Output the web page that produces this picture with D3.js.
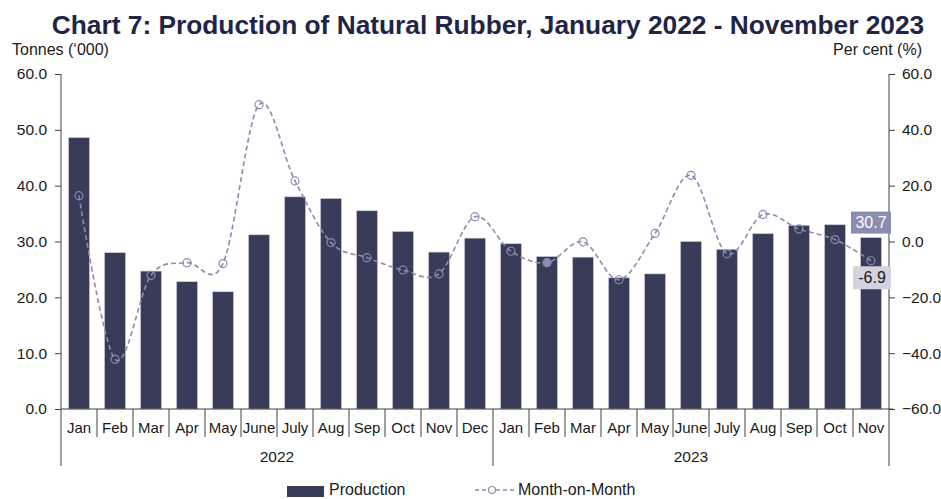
<!DOCTYPE html>
<html>
<head>
<meta charset="utf-8">
<script src="https://cdn.jsdelivr.net/npm/d3@7"></script>
<style>
  body { margin: 0; background: #fff; }
  svg { display: block; font-family: "Liberation Sans", Arial, sans-serif; }
</style>
</head>
<body>
<svg id="chart"></svg>
<script>
// data
const months = ['Jan', 'Feb', 'Mar', 'Apr', 'May', 'June', 'July', 'Aug', 'Sep', 'Oct', 'Nov', 'Dec',
  'Jan', 'Feb', 'Mar', 'Apr', 'May', 'June', 'July', 'Aug', 'Sep', 'Oct', 'Nov']
const years = [{ label: '2022', start: 0, end: 12 }, { label: '2023', start: 12, end: 23 }]
const production = [48.6, 28.0, 24.7, 22.8, 21.0, 31.2, 38.0, 37.7, 35.5, 31.8, 28.1, 30.6,
  29.6, 27.3, 27.2, 23.5, 24.2, 30.0, 28.6, 31.4, 32.9, 33.0, 30.7]
const monthOnMonth = [16.4, -42.2, -12.1, -7.6, -7.9, 49.0, 21.7, -0.4, -5.8, -10.2, -11.6, 8.9,
  -3.5, -7.6, -0.1, -13.7, 2.9, 23.7, -4.4, 9.7, 4.5, 0.7, -6.9]
const leftTicks = [0, 10, 20, 30, 40, 50, 60]
const rightTicks = [-60, -40, -20, 0, 20, 40, 60]

const W = 941, H = 499
const margin = { top: 74, right: 52, bottom: 90, left: 61 }
const width = W - margin.left - margin.right
const height = H - margin.top - margin.bottom

const barColor = '#393c58'
const lineColor = '#8a8cb0'
const textColor = '#1a1a1a'

const svg = d3.select('#chart').attr('width', W).attr('height', H)

svg.append('text').attr('x', 488).attr('y', 34).attr('text-anchor', 'middle')
  .attr('font-size', 26.3).attr('font-weight', 'bold').attr('fill', '#1f2547')
  .text('Chart 7: Production of Natural Rubber, January 2022 - November 2023')

svg.append('text').attr('x', 12).attr('y', 55).attr('font-size', 16).attr('fill', textColor)
  .text('Tonnes (‘000)')
svg.append('text').attr('x', 922).attr('y', 55).attr('font-size', 16).attr('fill', textColor)
  .attr('text-anchor', 'end').text('Per cent (%)')

const g = svg.append('g').attr('transform', 'translate(' + margin.left + ',' + margin.top + ')')

const idx = months.map((m, i) => i)
const x = d3.scaleBand().domain(idx).range([0, width]).paddingInner(0.42).paddingOuter(0.21)
const step = width / months.length
const yL = d3.scaleLinear().domain([0, 60]).range([height, 0])
const yR = d3.scaleLinear().domain([-60, 60]).range([height, 0])

// bars
g.selectAll('rect.bar').data(production).join('rect')
  .attr('class', 'bar')
  .attr('x', (d, i) => x(i))
  .attr('width', x.bandwidth())
  .attr('y', d => yL(d))
  .attr('height', d => yL(0) - yL(d))
  .attr('fill', barColor)
  .attr('stroke', '#c9cad6').attr('stroke-width', 0.6)

// axes
const left = g.append('g').call(d3.axisLeft(yL).tickValues(leftTicks).tickFormat(d3.format('.1f')).tickSize(6).tickPadding(8))
const right = g.append('g').attr('transform', 'translate(' + width + ',0)')
  .call(d3.axisRight(yR).tickValues(rightTicks).tickFormat(d3.format('.1f')).tickSize(6).tickPadding(7))
;[left, right].forEach(a => {
  a.selectAll('.domain').attr('stroke', '#404040').attr('d', 'M0,0V' + height)
  a.selectAll('line').attr('stroke', '#404040')
  a.selectAll('text').attr('font-size', 15.5).attr('fill', textColor).attr('font-family', '"Liberation Sans", Arial, sans-serif')
})

// category axis
const xa = g.append('g').attr('transform', 'translate(0,' + height + ')')
xa.append('line').attr('x1', 0).attr('x2', width + 4).attr('stroke', '#404040')
xa.selectAll('line.sep').data(d3.range(months.length + 1)).join('line')
  .attr('class', 'sep')
  .attr('x1', i => i * step).attr('x2', i => i * step)
  .attr('y1', 0)
  .attr('y2', i => (i === 0 || i === 12 || i === months.length) ? 57 : 28)
  .attr('stroke', '#404040')
xa.selectAll('text.month').data(months).join('text')
  .attr('class', 'month')
  .attr('x', (d, i) => x(i) + x.bandwidth() / 2)
  .attr('y', 24).attr('text-anchor', 'middle')
  .attr('font-size', 15).attr('fill', textColor)
  .text(d => d)
xa.selectAll('text.year').data(years).join('text')
  .attr('class', 'year')
  .attr('x', d => (d.start + d.end) / 2 * step)
  .attr('y', 53).attr('text-anchor', 'middle')
  .attr('font-size', 15.5).attr('fill', textColor)
  .text(d => d.label)

// month-on-month line
const pts = monthOnMonth.map((v, i) => [x(i) + x.bandwidth() / 2, yR(v)])
const line = d3.line().curve(d3.curveCardinal.tension(0))
g.append('path').attr('d', line(pts))
  .attr('fill', 'none').attr('stroke', lineColor).attr('stroke-width', 1.6)
  .attr('stroke-dasharray', '5,3')
g.selectAll('circle.mk').data(pts).join('circle')
  .attr('class', 'mk')
  .attr('cx', d => d[0]).attr('cy', d => d[1]).attr('r', 4)
  .attr('fill', (d, i) => i === 13 ? lineColor : 'none')
  .attr('stroke', lineColor).attr('stroke-width', 1.2)

// end labels
const last = months.length - 1
const cx = x(last) + x.bandwidth() / 2
const lab1 = g.append('g').attr('transform', 'translate(' + cx + ',' + (yL(production[last]) - 15) + ')')
lab1.append('rect').attr('x', -20).attr('y', -11).attr('width', 40).attr('height', 22).attr('fill', lineColor)
lab1.append('text').attr('text-anchor', 'middle').attr('y', 5.5).attr('font-size', 16).attr('fill', '#fff')
  .text(production[last].toFixed(1))
const lab2 = g.append('g').attr('transform', 'translate(' + (cx + 1) + ',' + (yR(monthOnMonth[last]) + 17) + ')')
lab2.append('rect').attr('x', -19).attr('y', -11.5).attr('width', 38).attr('height', 23).attr('fill', '#d3d3e0')
lab2.append('text').attr('text-anchor', 'middle').attr('y', 5.5).attr('font-size', 16).attr('fill', textColor)
  .text(monthOnMonth[last].toFixed(1))

// legend
const lg = svg.append('g')
lg.append('rect').attr('x', 287).attr('y', 486).attr('width', 37).attr('height', 11).attr('fill', barColor)
lg.append('text').attr('x', 329).attr('y', 495).attr('font-size', 16).attr('fill', textColor).text('Production')
lg.append('line').attr('x1', 475).attr('x2', 515).attr('y1', 490).attr('y2', 490)
  .attr('stroke', lineColor).attr('stroke-width', 1.4).attr('stroke-dasharray', '4,3')
lg.append('circle').attr('cx', 492).attr('cy', 490).attr('r', 3.5).attr('fill', '#fff')
  .attr('stroke', lineColor).attr('stroke-width', 1.2)
lg.append('text').attr('x', 518).attr('y', 495).attr('font-size', 16).attr('fill', textColor).text('Month-on-Month')
</script>
</body>
</html>
